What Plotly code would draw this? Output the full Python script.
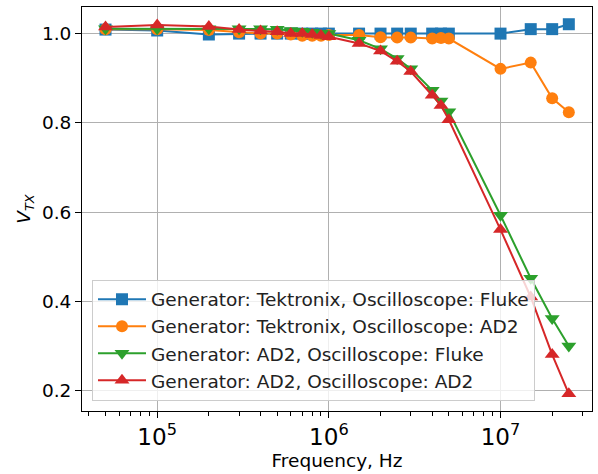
import plotly.graph_objects as go

freq = [5e4, 1e5, 2e5, 3e5, 4e5, 5e5, 6e5, 7e5, 8e5, 9e5, 1e6,
        1.5e6, 2e6, 2.5e6, 3e6, 4e6, 4.5e6, 5e6, 1e7, 1.5e7, 2e7, 2.5e7]

tek_fluke = [1.009, 1.007, 0.998, 1.0, 1.0, 1.0, 1.0, 1.0, 1.0, 1.0, 1.0,
             1.0, 1.0, 1.0, 1.0, 1.0, 1.0, 1.0, 1.0, 1.01, 1.01, 1.021]
tek_ad2 = [1.01, 1.01, 1.008, 1.003, 1.0, 1.0, 0.998, 0.995, 0.995, 0.995, 0.997,
           0.997, 0.992, 0.991, 0.991, 0.989, 0.99, 0.989, 0.921, 0.935, 0.855, 0.824]
ad2_fluke = [1.011, 1.011, 1.011, 1.011, 1.011, 1.01, 1.007, 1.005, 1.003, 1.001, 1.0,
             0.985, 0.966, 0.944, 0.921, 0.873, 0.849, 0.825, 0.593, 0.452, 0.362, 0.30]
ad2_ad2 = [1.015, 1.019, 1.016, 1.009, 1.006, 1.004, 1.0, 1.0, 0.998, 0.996, 0.993,
           0.978, 0.961, 0.938, 0.915, 0.862, 0.839, 0.807, 0.561, 0.41, 0.281, 0.193]

names = ["Generator: Tektronix, Oscilloscope: Fluke",
         "Generator: Tektronix, Oscilloscope: AD2",
         "Generator: AD2, Oscilloscope: Fluke",
         "Generator: AD2, Oscilloscope: AD2"]
series = [tek_fluke, tek_ad2, ad2_fluke, ad2_ad2]
colors = ["#1f77b4", "#ff7f0e", "#2ca02c", "#d62728"]
symbols = ["square", "circle", "triangle-down", "triangle-up"]
sizes = [12, 12, 13, 13]

fig = go.Figure()
for i, (name, ys, c, s, sz) in enumerate(zip(names, series, colors, symbols, sizes)):
    fig.add_trace(go.Scatter(
        x=freq, y=ys, mode="lines+markers", name=name, legendgroup=f"g{i}",
        line=dict(color=c, width=2),
        marker=dict(symbol=s, size=sz, color=c, line=dict(width=0)),
    ))

font = "DejaVu Sans"
fs = 18.5
fig.update_layout(
    width=598, height=474,
    margin=dict(l=82, r=6, t=7, b=63),
    paper_bgcolor="white", plot_bgcolor="white",
    font=dict(family=font, size=fs, color="black"),
    showlegend=True,
    legend=dict(
        x=0.0196, y=0.0255, xanchor="left", yanchor="bottom",
        bgcolor="rgba(255,255,255,0.8)", bordercolor="#cccccc", borderwidth=1,
        font=dict(family=font, size=fs, color="#222222"),
        itemwidth=48, tracegroupgap=0,
    ),
)
fig.update_xaxes(
    type="log", range=[4.562, 7.533],
    dtick=1, exponentformat="power", showexponent="all",
    showgrid=True, gridcolor="#b0b0b0", gridwidth=1,
    showline=True, linecolor="black", linewidth=1, mirror=True,
    ticks="outside", ticklen=6, tickcolor="black",
    minor=dict(ticks="outside", ticklen=3.5, tickcolor="black", dtick="D1", showgrid=False),
    zeroline=False,
    title=dict(text="Frequency, Hz", font=dict(family=font, size=fs), standoff=5),
    tickfont=dict(family=font, size=fs),
)
fig.update_yaxes(
    range=[0.1546, 1.0596],
    tickvals=[0.2, 0.4, 0.6, 0.8, 1.0], tickformat=".1f",
    showgrid=True, gridcolor="#b0b0b0", gridwidth=1,
    showline=True, linecolor="black", linewidth=1, mirror=True,
    ticks="outside", ticklen=6, tickcolor="black",
    zeroline=False,
    title=dict(text="<i>V</i><sub><i>TX</i></sub>", font=dict(family=font, size=fs), standoff=6),
    tickfont=dict(family=font, size=fs),
)

fig.write_html("out.html")
